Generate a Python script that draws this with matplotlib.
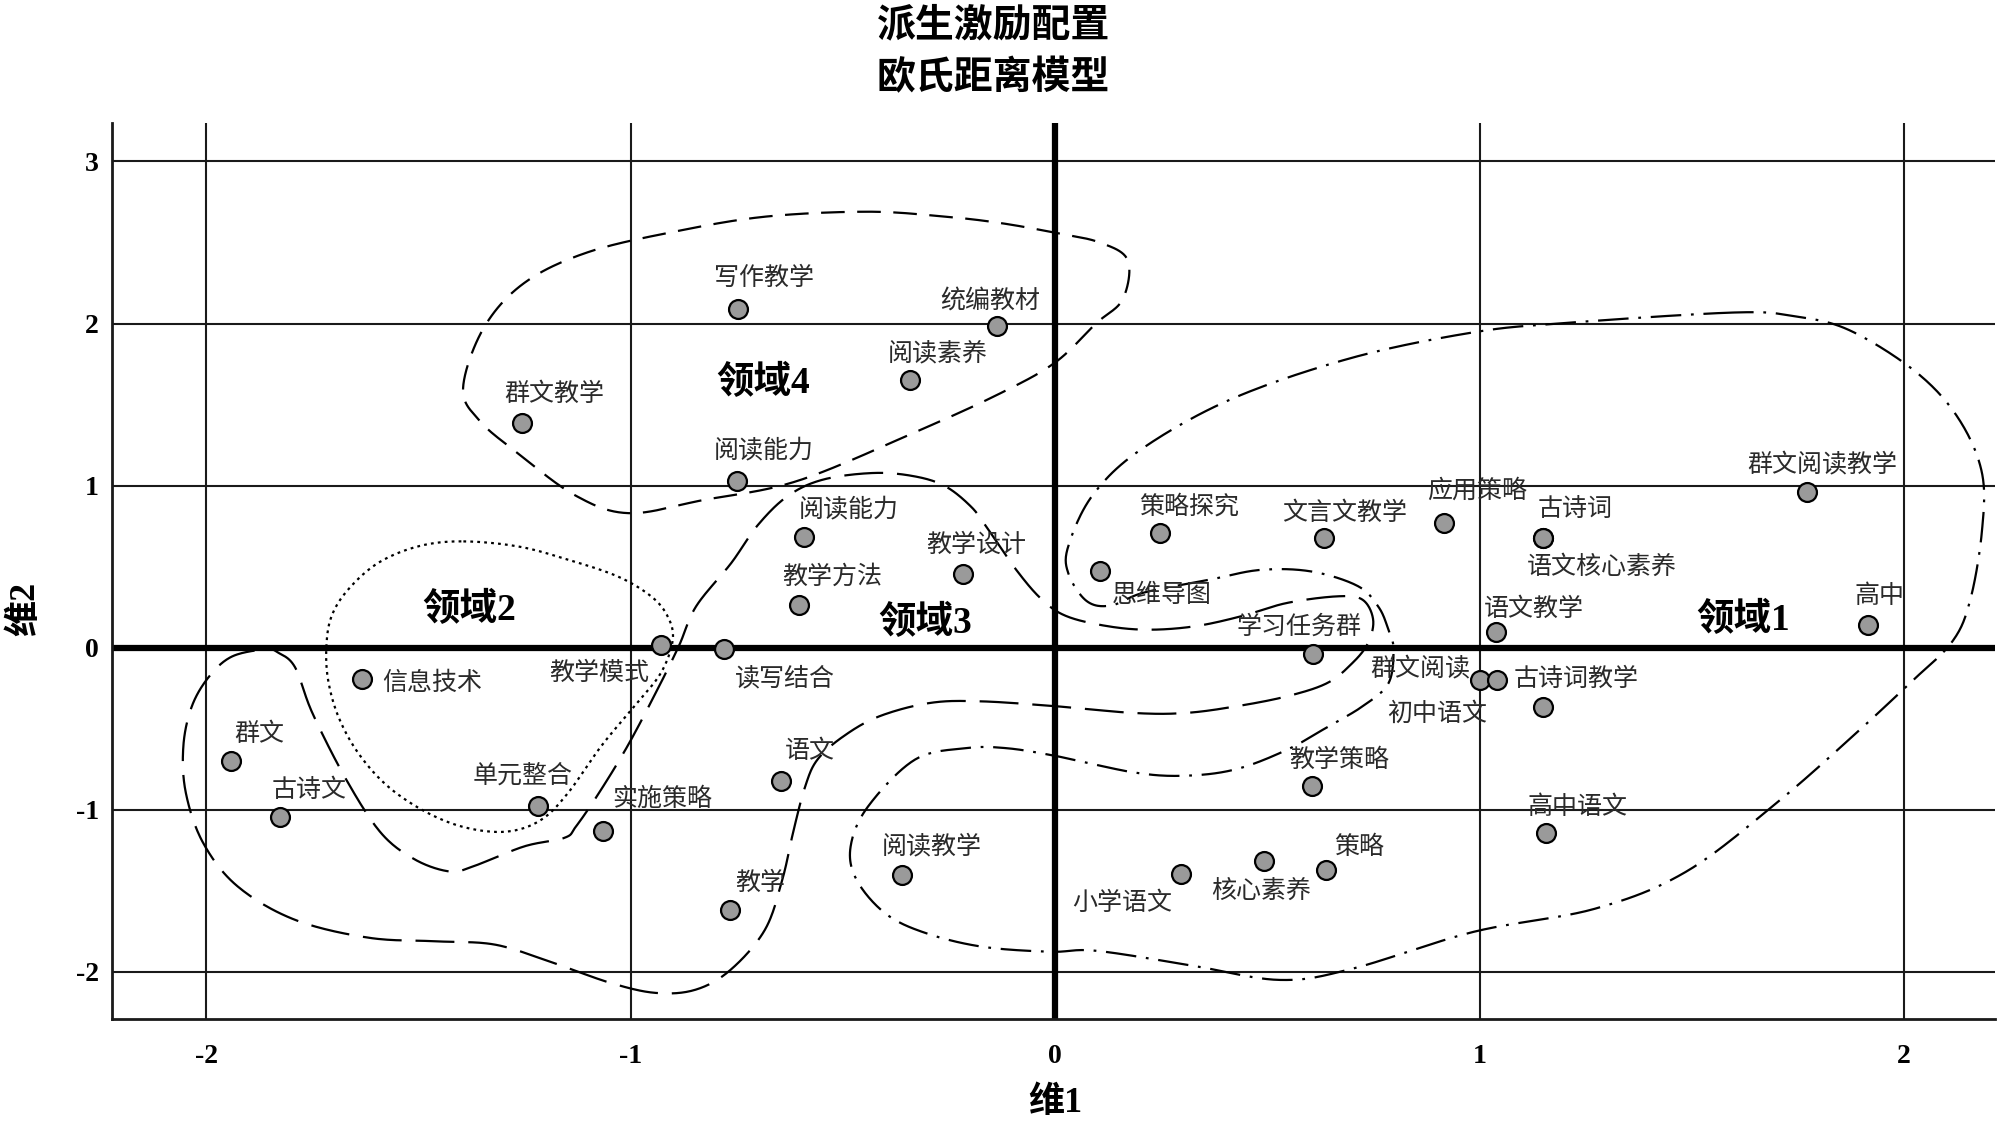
import numpy as np
import matplotlib.pyplot as plt

plt.rcParams['font.family'] = ['Liberation Serif', 'Noto Sans CJK SC', 'DejaVu Sans']
plt.rcParams['lines.scale_dashes'] = False
plt.rcParams['axes.unicode_minus'] = False

# stimulus coordinates (dimension 1, dimension 2)
terms = ['写作教学', '统编教材', '阅读素养', '群文教学', '阅读能力', '阅读能力',
         '教学设计', '教学方法', '教学模式', '读写结合', '信息技术', '群文',
         '古诗文', '单元整合', '实施策略', '语文', '教学', '阅读教学',
         '小学语文', '核心素养', '策略', '教学策略', '思维导图', '策略探究',
         '文言文教学', '应用策略', '古诗词', '群文阅读教学', '语文核心素养', '高中',
         '语文教学', '学习任务群', '群文阅读', '古诗词教学', '初中语文', '高中语文']
dim1 = [-0.747, -0.137, -0.342, -1.255, -0.750, -0.592,
        -0.217, -0.603, -0.929, -0.780, -1.634, -1.941,
        -1.827, -1.219, -1.066, -0.645, -0.765, -0.360,
        0.297, 0.493, 0.637, 0.604, 0.105, 0.248,
        0.633, 0.915, 1.150, 1.770, 1.150, 1.915,
        1.039, 0.608, 1.000, 1.040, 1.150, 1.157]
dim2 = [2.090, 1.985, 1.652, 1.389, 1.030, 0.684,
        0.452, 0.266, 0.019, -0.008, -0.191, -0.700,
        -1.047, -0.975, -1.134, -0.820, -1.620, -1.400,
        -1.399, -1.314, -1.370, -0.854, 0.472, 0.705,
        0.676, 0.770, 0.676, 0.963, 0.676, 0.140,
        0.095, -0.038, -0.200, -0.200, -0.364, -1.143]
# label centres
label_x = [-0.686, -0.153, -0.277, -1.180, -0.686, -0.487,
           -0.187, -0.526, -1.075, -0.637, -1.468, -1.875,
           -1.758, -1.254, -0.925, -0.578, -0.696, -0.292,
           0.157, 0.484, 0.715, 0.669, 0.252, 0.316,
           0.682, 0.993, 1.225, 1.807, 1.288, 1.941,
           1.128, 0.575, 0.861, 1.228, 0.900, 1.231]
label_y = [2.280, 2.142, 1.817, 1.563, 1.218, 0.852,
           0.636, 0.440, -0.157, -0.190, -0.218, -0.530,
           -0.878, -0.790, -0.934, -0.640, -1.450, -1.226,
           -1.577, -1.503, -1.229, -0.690, 0.322, 0.869,
           0.832, 0.968, 0.855, 1.124, 0.500, 0.316,
           0.237, 0.132, -0.137, -0.194, -0.407, -0.982]

# region names
regions = ['领域1', '领域2', '领域3', '领域4']
region_x = [1.620, -1.380, -0.307, -0.689]
region_y = [0.170, 0.233, 0.154, 1.630]

# hand-drawn region outlines (closed)
r1_x = [1.599, 1.200, 0.986, 0.701, 0.416, 0.202, 0.088, 0.031, 0.031, 0.074, 0.131,
        0.209, 0.365, 0.484, 0.604, 0.713, 0.762, 0.785, 0.797, 0.785, 0.725, 0.641,
        0.546, 0.426, 0.306, 0.186, 0.005, -0.115, -0.210, -0.330, -0.441, -0.482,
        -0.468, -0.400, -0.306, -0.172, -0.012, 0.096, 0.320, 0.530, 0.701, 0.986,
        1.271, 1.485, 1.699, 1.884, 2.012, 2.112, 2.155, 2.183, 2.183, 2.126, 2.026,
        1.870, 1.741]
r1_y = [2.068, 2.003, 1.946, 1.790, 1.535, 1.223, 0.940, 0.628, 0.458, 0.288, 0.260,
        0.340, 0.420, 0.480, 0.470, 0.380, 0.250, 0.110, -0.010, -0.220, -0.360, -0.490,
        -0.630, -0.750, -0.790, -0.770, -0.670, -0.620, -0.620, -0.690, -0.980, -1.227,
        -1.432, -1.640, -1.760, -1.845, -1.876, -1.870, -1.960, -2.050, -1.980, -1.753,
        -1.611, -1.384, -0.959, -0.534, -0.222, 0.033, 0.288, 0.713, 1.082, 1.422, 1.705,
        1.960, 2.045]
r2_x = [-1.399, -1.501, -1.595, -1.666, -1.705, -1.717, -1.713, -1.689, -1.642, -1.572,
        -1.478, -1.384, -1.289, -1.211, -1.148, -1.070, -0.992, -0.929, -0.901, -0.913,
        -0.952, -1.031, -1.148, -1.266]
r2_y = [0.656, 0.625, 0.523, 0.358, 0.193, 0.008, -0.198, -0.424, -0.650, -0.856,
        -1.020, -1.113, -1.134, -1.062, -0.897, -0.609, -0.362, -0.156, 0.049, 0.193,
        0.317, 0.440, 0.543, 0.625]
r3_x = [-1.860, -1.831, -1.791, -1.750, -1.670, -1.588, -1.507, -1.426, -1.372, -1.251,
        -1.156, -1.129, -1.075, -1.008, -0.941, -0.887, -0.846, -0.763, -0.703, -0.631,
        -0.547, -0.427, -0.331, -0.259, -0.199, -0.163, -0.092, -0.031, 0.028, 0.125,
        0.221, 0.329, 0.437, 0.546, 0.666, 0.724, 0.749, 0.737, 0.700, 0.641, 0.546,
        0.426, 0.306, 0.186, 0.005, -0.175, -0.295, -0.415, -0.499, -0.560, -0.589,
        -0.616, -0.643, -0.684, -0.765, -0.847, -0.941, -1.048, -1.183, -1.318, -1.453,
        -1.616, -1.791, -1.926, -2.007, -2.048, -2.054, -2.034, -1.993, -1.939]
r3_y = [-0.010, -0.030, -0.120, -0.403, -0.815, -1.144, -1.309, -1.381, -1.350, -1.226,
        -1.173, -1.103, -0.897, -0.609, -0.278, 0.008, 0.255, 0.523, 0.749, 0.934,
        1.037, 1.078, 1.057, 0.996, 0.872, 0.749, 0.481, 0.296, 0.193, 0.132,
        0.111, 0.132, 0.193, 0.276, 0.317, 0.296, 0.173, 0.029, -0.095, -0.218, -0.300,
        -0.362, -0.403, -0.403, -0.362, -0.331, -0.341, -0.424, -0.547, -0.690, -0.856,
        -1.123, -1.432, -1.741, -1.988, -2.110, -2.130, -2.068, -1.944, -1.833, -1.812,
        -1.790, -1.679, -1.473, -1.206, -0.897, -0.609, -0.362, -0.177, -0.054]
r4_x = [-1.395, -1.347, -1.251, -1.101, -0.891, -0.681, -0.441, -0.261, -0.129, 0.000,
        0.105, 0.171, 0.159, 0.096, 0.000, -0.129, -0.321, -0.606, -0.831, -1.005,
        -1.131, -1.266, -1.356]
r4_y = [1.600, 1.970, 2.250, 2.440, 2.570, 2.660, 2.690, 2.660, 2.620, 2.560,
        2.500, 2.390, 2.150, 2.000, 1.760, 1.570, 1.340, 1.030, 0.910, 0.830,
        0.940, 1.200, 1.400]


def closed_spline(px, py, n=24):
    # closed Catmull-Rom curve through the outline points
    p = np.column_stack([px, py])
    m = len(p)
    t = np.linspace(0, 1, n, endpoint=False)[:, None]
    segs = []
    for i in range(m):
        p0, p1, p2, p3 = p[i - 1], p[i], p[(i + 1) % m], p[(i + 2) % m]
        segs.append(0.5 * (2 * p1 + (-p0 + p2) * t
                           + (2 * p0 - 5 * p1 + 4 * p2 - p3) * t ** 2
                           + (-p0 + 3 * p1 - 3 * p2 + p3) * t ** 3))
    segs.append(p[:1])
    c = np.vstack(segs)
    return c[:, 0], c[:, 1]


fig = plt.figure(figsize=(20, 11.33), dpi=100)
ax = fig.add_axes([0.0558, 0.1009, 0.9417, 0.7905])

ax.set_xlim(-2.223, 2.214)
ax.set_ylim(-2.289, 3.237)
ax.set_xticks([-2, -1, 0, 1, 2])
ax.set_yticks([-2, -1, 0, 1, 2, 3])
ax.grid(True, color='#1a1a1a', lw=1.5, zorder=1)
ax.set_axisbelow(True)
ax.axhline(0, color='black', lw=4.5, zorder=1.5)
ax.axvline(0, color='black', lw=4.5, zorder=1.5)
for s in ['top', 'right']:
    ax.spines[s].set_visible(False)
for s in ['left', 'bottom']:
    ax.spines[s].set_linewidth(2)
    ax.spines[s].set_color('#1a1a1a')
ax.tick_params(length=0, labelsize=20)
ax.tick_params(axis='x', pad=18)
ax.tick_params(axis='y', pad=9)
for lab in ax.get_xticklabels() + ax.get_yticklabels():
    lab.set_fontweight('bold')
    lab.set_family('Liberation Serif')

styles = [(0, (22, 7, 2, 7)), (0, (2, 3)), (0, (28, 10)), (0, (17, 9))]
outlines = [(r1_x, r1_y), (r2_x, r2_y), (r3_x, r3_y), (r4_x, r4_y)]
for (ox, oy), ls in zip(outlines, styles):
    cx, cy = closed_spline(ox, oy)
    ax.plot(cx, cy, color='black', lw=1.6, linestyle=ls, zorder=2)

ax.scatter(dim1, dim2, s=185, c='#9a9a9a', edgecolors='black', linewidths=1.6, zorder=3)

for name, lx, ly in zip(terms, label_x, label_y):
    ax.text(lx, ly, name, ha='center', va='center', fontsize=18,
            family=['Noto Sans CJK SC'], color='#2a2a2a', zorder=4)

for name, rx, ry in zip(regions, region_x, region_y):
    ax.text(rx, ry, name, ha='center', va='center', fontsize=27, fontweight='bold',
            family=['Liberation Serif', 'Noto Sans CJK SC'], zorder=4)

ax.set_xlabel('维1', fontsize=26, fontweight='bold', va='center',
              family=['Liberation Serif', 'Noto Sans CJK SC'])
ax.xaxis.set_label_coords(0.501, -0.094)
ax.set_ylabel('维2', fontsize=26, fontweight='bold', va='center', ha='center',
              family=['Liberation Serif', 'Noto Sans CJK SC'])
ax.yaxis.set_label_coords(-0.0457, 0.457)

fig.text(0.4968, 0.976, '派生激励配置', ha='center', va='center', fontsize=28,
         fontweight='bold', family=['Liberation Serif', 'Noto Sans CJK SC'])
fig.text(0.4968, 0.9294, '欧氏距离模型', ha='center', va='center', fontsize=28,
         fontweight='bold', family=['Liberation Serif', 'Noto Sans CJK SC'])

fig.savefig('out.png', dpi=100)
